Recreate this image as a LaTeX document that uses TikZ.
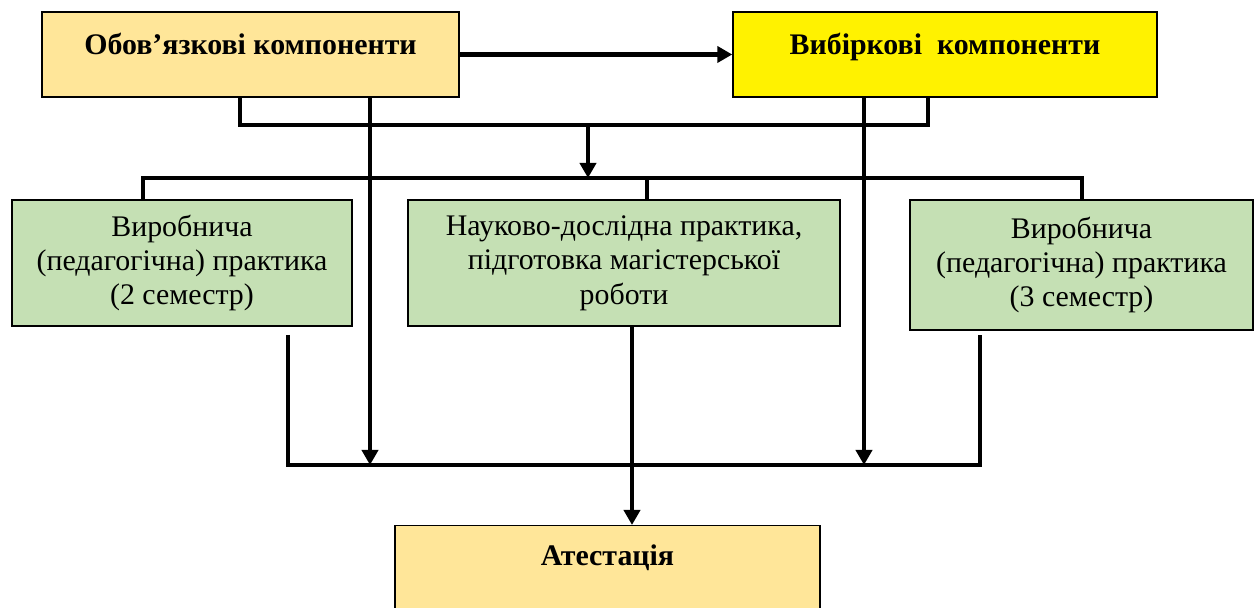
\documentclass[tikz,border=0pt]{standalone}
\usepackage{fontspec}
\setmainfont{Liberation Serif}
\usetikzlibrary{arrows.meta}
\definecolor{paleorange}{HTML}{FFE699}
\definecolor{palegreen}{HTML}{C5E0B4}
\tikzset{
  box/.style={draw,line width=0.8pt,align=center,inner sep=0pt},
  titlebox/.style={box,minimum height=1.7cm,font=\fontsize{17}{19.6}\selectfont\bfseries,text height=0.4cm,text depth=0.4cm},
  practbox/.style={box,fill=palegreen},
  link/.style={line width=2.5pt},
  arr/.style={line width=2.5pt,-{Triangle[length=0.3cm,width=0.32cm]}}
}
\begin{document}
\begin{tikzpicture}[font=\fontsize{17}{19.6}\selectfont]
%\draw[step=1cm,gray,very thin] (0,0) grid (25,12); %background grid
\clip (0,0) rectangle (25.16,12.16);
\node[titlebox,fill=paleorange,minimum width=8.34cm] (oblig) at (5.01,11.07) {Обов’язкові компоненти};
\node[titlebox,fill=yellow,minimum width=8.48cm] (vybir) at (18.9,11.07) {Вибіркові\ \ компоненти};
\node[practbox,minimum width=6.8cm,minimum height=2.52cm] (prakt1) at (3.64,6.9) {Виробнича\\(педагогічна) практика\\(2 семестр)};
\node[practbox,minimum width=8.64cm,minimum height=2.52cm] (nauk) at (12.48,6.9) {Науково-дослідна практика,\\підготовка магістерської\\роботи};
\node[practbox,minimum width=6.86cm,minimum height=2.6cm] (prakt3) at (21.63,6.86) {Виробнича\\(педагогічна) практика\\(3 семестр)};
\node[box,fill=paleorange,anchor=north,minimum width=8.5cm,minimum height=2.3cm,font=\fontsize{17}{19.6}\selectfont\bfseries,text height=0.4cm,text depth=1.1cm] (atest) at (12.15,1.66) {Атестація};
% buses
\coordinate (topL) at (4.8,9.66);
\coordinate (topR) at (18.56,9.66);
\coordinate (topM) at (11.76,9.66);
\coordinate (midM) at (11.76,8.6);
\coordinate (midL) at (2.86,8.6);
\coordinate (midR) at (21.64,8.6);
\coordinate (midC) at (12.94,8.6);
\coordinate (dropL) at (5.76,5.46);
\coordinate (dropR) at (19.6,5.46);
\coordinate (botL) at (5.76,2.86);
\coordinate (botR) at (19.6,2.86);
\coordinate (botM) at (12.64,2.86);
\coordinate (thruL) at (7.4,2.86);
\coordinate (thruR) at (17.28,2.86);
\draw[arr] (oblig.east) -- (vybir.west);
\draw[link] (oblig.south -| topL) -- (topL) -- (topR) -- (vybir.south -| topR);
\draw[arr] (topM) -- (midM);
\draw[link] (prakt1.north -| midL) -- (midL) -- (midR) -- (prakt3.north -| midR);
\draw[link] (midC) -- (nauk.north -| midC);
\draw[arr] (oblig.south -| thruL) -- (thruL);
\draw[arr] (vybir.south -| thruR) -- (thruR);
\draw[link] (dropL) -- (botL) -- (botR) -- (dropR);
\draw[link] (nauk.south -| botM) -- (botM);
\draw[arr] (botM) -- (atest.north -| botM);
\end{tikzpicture}
\end{document}
